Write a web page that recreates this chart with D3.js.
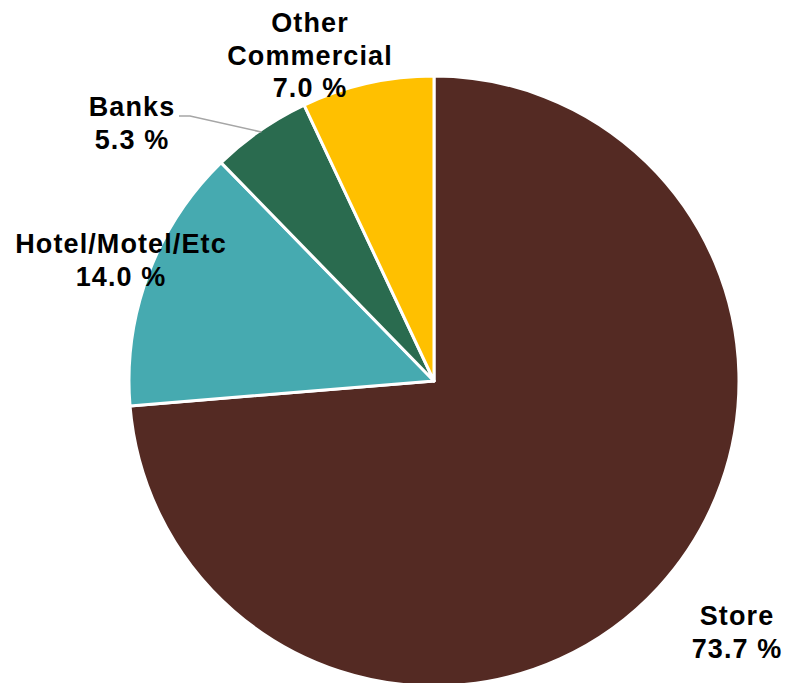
<!DOCTYPE html>
<html>
<head>
<meta charset="utf-8">
<script src="https://cdn.jsdelivr.net/npm/d3@7"></script>
<style>
body{margin:0;background:#fff;}
</style>
</head>
<body>
<script>
var categories=["Store","Hotel/Motel/Etc","Banks","Other Commercial"];
var values=[73.7,14.0,5.3,7.0];
var colors=["#542a23","#46aab0","#2a6b4f","#ffc000"];

var width=789;
var height=683;
var cx=434, cy=381, radius=305;

// label anchors (centre x, first baseline) and line breaks
var labelPos=[[737,625],[121,253],[132,116],[310,32]];
var labelLines=[["Store"],["Hotel/Motel/Etc"],["Banks"],["Other","Commercial"]];

var svg=d3.select("body")
    .append("svg")
    .attr("width",width)
    .attr("height",height);

var pie=d3.pie().sort(null).value(function(d){return d;});
var arc=d3.arc().innerRadius(0).outerRadius(radius);

var g=svg.append("g").attr("transform","translate("+cx+","+cy+")");
g.selectAll("path")
    .data(pie(values))
    .enter()
    .append("path")
    .attr("d",arc)
    .attr("fill",function(d,i){return colors[i];})
    .attr("stroke","#fff")
    .attr("stroke-width",3)
    .attr("stroke-linejoin","round");

// leader line for Banks
var banks=pie(values)[2];
var a=(banks.startAngle+banks.endAngle)/2;
var px=cx+Math.sin(a)*(radius-2), py=cy-Math.cos(a)*(radius-2);
svg.append("polyline")
    .attr("points",[[179,116],[190,116],[px,py]].map(function(p){return p.join(",");}).join(" "))
    .attr("fill","none")
    .attr("stroke","#a6a6a6")
    .attr("stroke-width",1.5);

var lh=32.5;
var labels=svg.selectAll("text.lbl")
    .data(categories)
    .enter()
    .append("text")
    .attr("class","lbl")
    .attr("font-family","'Liberation Sans',Arial,sans-serif")
    .attr("font-weight","bold")
    .attr("font-size","27px")
    .attr("letter-spacing","1.1px")
    .attr("fill","#000")
    .attr("text-anchor","middle");

labels.each(function(d,i){
    var t=d3.select(this);
    var lines=labelLines[i].concat([values[i].toFixed(1)+" %"]);
    lines.forEach(function(s,j){
        t.append("tspan")
            .attr("x",labelPos[i][0])
            .attr("y",labelPos[i][1]+j*lh)
            .text(s);
    });
});
</script>
</body>
</html>
